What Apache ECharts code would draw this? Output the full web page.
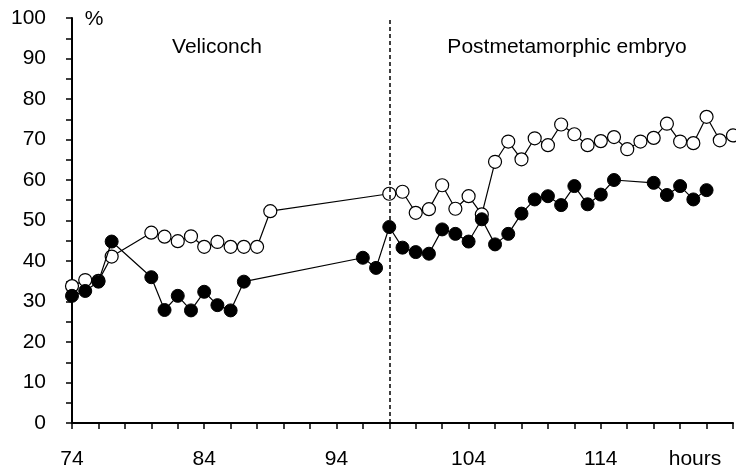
<!DOCTYPE html>
<html>
<head>
<meta charset="utf-8">
<script src="https://cdn.jsdelivr.net/npm/echarts@6/dist/echarts.min.js"></script>
<style>
  html, body { margin: 0; padding: 0; background: #fff; }
  #chart { width: 736px; height: 471px; }
</style>
</head>
<body>
<div id="chart"></div>
<script>
	// open circles
	var hoursOpen = [74, 75, 76, 77, 80, 81, 82, 83, 84, 85, 86, 87, 88, 89,
		98, 99, 100, 101, 102, 103, 104, 105, 106, 107, 108, 109, 110, 111,
		112, 113, 114, 115, 116, 117, 118, 119, 120, 121, 122, 123, 124];
	var valuesOpen = [33.8, 35.3, 35.1, 41.1, 47.0, 46.0, 44.9, 46.1, 43.5, 44.7, 43.5, 43.5, 43.5, 52.3,
		56.6, 57.1, 51.9, 52.8, 58.7, 52.9, 56.0, 51.5, 64.5, 69.5, 65.1, 70.3, 68.6, 73.7,
		71.3, 68.6, 69.6, 70.6, 67.6, 69.5, 70.4, 73.9, 69.5, 69.1, 75.6, 69.8, 71.0];

	// filled circles
	var hoursFilled = [74, 75, 76, 77, 80, 81, 82, 83, 84, 85, 86, 87,
		96, 97, 98, 99, 100, 101, 102, 103, 104, 105, 106, 107, 108, 109,
		110, 111, 112, 113, 114, 115, 118, 119, 120, 121, 122];
	var valuesFilled = [31.4, 32.6, 34.9, 44.8, 36.0, 27.9, 31.4, 27.8, 32.4, 29.1, 27.8, 34.9,
		40.8, 38.3, 48.4, 43.3, 42.2, 41.8, 47.8, 46.7, 44.8, 50.3, 44.1, 46.7, 51.7, 55.2,
		56.0, 53.8, 58.5, 54.0, 56.4, 60.0, 59.3, 56.3, 58.5, 55.2, 57.5];

	var stageBorder = 98;
	var stageNames = ['Veliconch', 'Postmetamorphic embryo'];
	var xUnit = 'hours';
	var yUnit = '%';

	function pairs(xs, ys) {
		var out = [];
		xs.forEach(function (x, i) { out.push([x, ys[i]]); });
		return out;
	}

	var font = 'Liberation Sans, Arial, sans-serif';
	var myChart = echarts.init(document.getElementById('chart'));
	var option = {
		animation: false,
		grid: { left: 72, right: 3, top: 18, bottom: 48 },
		xAxis: {
			type: 'value',
			min: 74,
			max: 124,
			interval: 10,
			axisLine: { lineStyle: { color: '#000', width: 2 } },
			axisTick: { show: true, length: 6, lineStyle: { color: '#000', width: 1.5 } },
			minorTick: { show: true, splitNumber: 5, length: 6, lineStyle: { color: '#000', width: 1.5 } },
			splitLine: { show: false },
			axisLabel: {
				color: '#000', fontSize: 21, fontFamily: font, margin: 26,
				formatter: function (v) { return v === 124 ? '' : String(v); }
			}
		},
		yAxis: {
			type: 'value',
			min: 0,
			max: 100,
			interval: 10,
			axisLine: { show: true, lineStyle: { color: '#000', width: 2 } },
			axisTick: { show: true, length: 6, lineStyle: { color: '#000', width: 1.5 } },
			minorTick: { show: true, splitNumber: 2, length: 6, lineStyle: { color: '#000', width: 1.5 } },
			splitLine: { show: false },
			axisLabel: { color: '#000', fontSize: 21, fontFamily: font, margin: 26 }
		},
		graphic: [
			{ type: 'text', x: 217, y: 47, style: { text: stageNames[0], fill: '#000', font: '21px ' + font, textAlign: 'center', textVerticalAlign: 'middle' } },
			{ type: 'text', x: 567, y: 47, style: { text: stageNames[1], fill: '#000', font: '21px ' + font, textAlign: 'center', textVerticalAlign: 'middle' } },
			{ type: 'text', x: 94, y: 19, style: { text: yUnit, fill: '#000', font: '21px ' + font, textAlign: 'center', textVerticalAlign: 'middle' } },
			{ type: 'text', x: 695, y: 459, style: { text: xUnit, fill: '#000', font: '21px ' + font, textAlign: 'center', textVerticalAlign: 'middle' } }
		],
		series: [
			{
				type: 'line',
				data: pairs(hoursOpen, valuesOpen),
				symbol: 'circle',
				symbolSize: 13,
				clip: false,
				lineStyle: { color: '#000', width: 1.2 },
				itemStyle: { color: '#fff', borderColor: '#000', borderWidth: 1.2 },
				markLine: {
					silent: true,
					symbol: 'none',
					label: { show: false },
					lineStyle: { color: '#000', type: [4, 3], width: 1.5 },
					data: [{ xAxis: stageBorder }]
				},
				z: 2
			},
			{
				type: 'line',
				data: pairs(hoursFilled, valuesFilled),
				symbol: 'circle',
				symbolSize: 13,
				clip: false,
				lineStyle: { color: '#000', width: 1.2 },
				itemStyle: { color: '#000', borderColor: '#000', borderWidth: 1 },
				z: 3
			}
		]
	};
	myChart.setOption(option);
</script>
</body>
</html>
